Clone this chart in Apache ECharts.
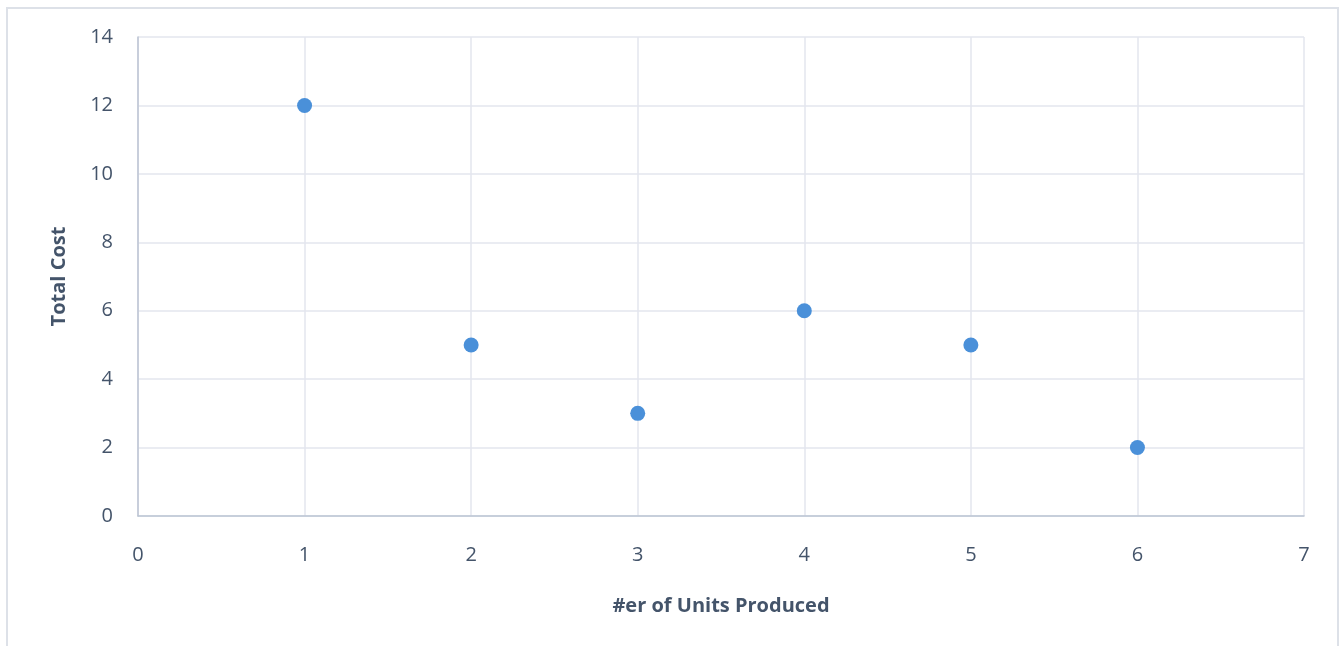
<!DOCTYPE html>
<html>
<head>
<meta charset="utf-8">
<script src="https://cdn.jsdelivr.net/npm/echarts@6/dist/echarts.min.js"></script>
<style>
  html, body { margin: 0; padding: 0; background: #fff; }
  #chart { width: 1340px; height: 646px; }
</style>
</head>
<body>
<div id="chart"></div>
<script>
// Units produced vs. total cost
const unitsProduced = [1, 2, 3, 4, 5, 6];
const totalCost = [12, 5, 3, 6, 5, 2];
const xTitle = '#er of Units Produced';
const yTitle = 'Total Cost';

const points = unitsProduced.map((u, i) => [u, totalCost[i]]);

const labelColor = '#44546a';
const gridColor = '#e3e6ee';
const axisColor = '#bcc5d3';
const font = '"Open Sans", Lato, sans-serif';

const chart = echarts.init(document.getElementById('chart'), null, { renderer: 'canvas' });
chart.setOption({
  animation: false,
  backgroundColor: '#ffffff',
  graphic: [{
    type: 'rect',
    shape: { x: 7, y: 8, width: 1331, height: 700 },
    style: { fill: 'none', stroke: '#dde1e8', lineWidth: 2 },
    silent: true
  }],
  grid: { left: 138, right: 36, top: 37, bottom: 130 },
  xAxis: {
    type: 'value',
    min: 0, max: 7, interval: 1,
    name: xTitle,
    nameLocation: 'middle',
    nameGap: 80,
    nameTextStyle: { color: labelColor, fontFamily: font, fontSize: 20, fontWeight: 'bold' },
    axisLine: { show: true, onZero: false, lineStyle: { color: axisColor, width: 1.5 } },
    axisTick: { show: false },
    axisLabel: { color: labelColor, fontFamily: font, fontSize: 20, margin: 29 },
    splitLine: { show: true, lineStyle: { color: gridColor, width: 1.5 } }
  },
  yAxis: {
    type: 'value',
    min: 0, max: 14, interval: 2,
    name: yTitle,
    nameLocation: 'middle',
    nameGap: 69,
    nameRotate: 90,
    nameTextStyle: { color: labelColor, fontFamily: font, fontSize: 20, fontWeight: 'bold' },
    axisLine: { show: true, lineStyle: { color: axisColor, width: 1.5 } },
    axisTick: { show: false },
    axisLabel: { color: labelColor, fontFamily: font, fontSize: 20, margin: 25 },
    splitLine: { show: true, lineStyle: { color: gridColor, width: 1.5 } }
  },
  series: [{
    type: 'scatter',
    data: points,
    symbol: 'circle',
    symbolSize: 15,
    itemStyle: { color: '#4a90d9', opacity: 1 }
  }]
});
</script>
</body>
</html>
